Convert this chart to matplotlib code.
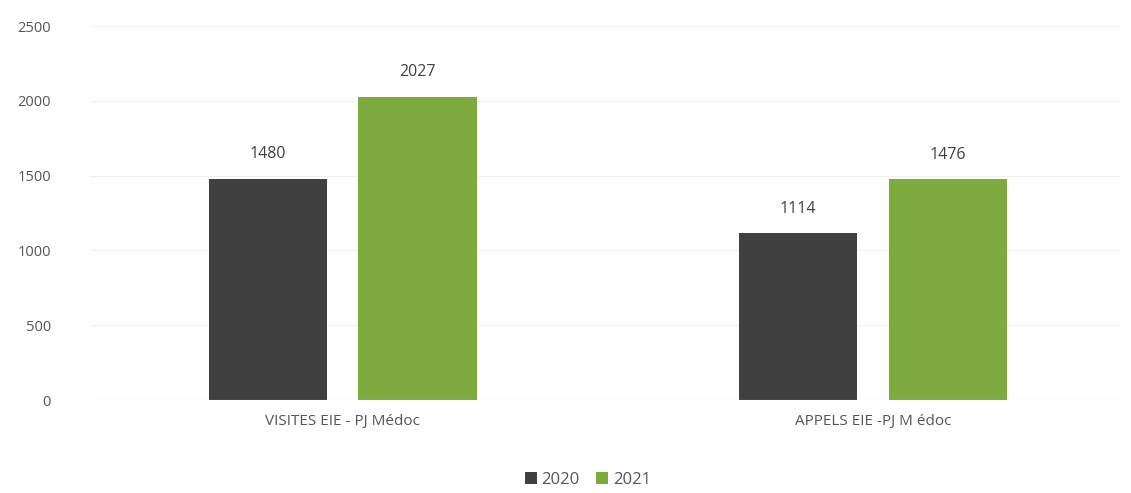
import matplotlib
matplotlib.use("Agg")
import matplotlib.pyplot as plt
import numpy as np

categories = ["VISITES EIE - PJ Médoc", "APPELS EIE -PJ M édoc"]
series_names = ["2020", "2021"]
values_2020 = [1480, 1114]
values_2021 = [2027, 1476]
yticks = [0, 500, 1000, 1500, 2000, 2500]

colors = ["#404040", "#7dab3e"]
plt.rcParams['font.family'] = ['Open Sans', 'DejaVu Sans']

fig = plt.figure(figsize=(11.31, 4.93), dpi=100)
ax = fig.add_axes([90/1131, 93/493, 1030/1131, 374/493])

x = np.arange(len(categories))
w = 0.223
off = 0.141
b1 = ax.bar(x - off, values_2020, w, color=colors[0], label=series_names[0])
b2 = ax.bar(x + off, values_2021, w, color=colors[1], label=series_names[1])

for bars in (b1, b2):
    for r in bars:
        ax.annotate(f"{int(r.get_height())}", (r.get_x() + r.get_width()/2, r.get_height()),
                    xytext=(0, 12), textcoords="offset points", ha="center", va="bottom",
                    fontsize=11.5, color="#404040")

ax.set_xlim(-0.477, 1.466)
ax.set_ylim(0, 2500)
ax.set_yticks(yticks)
ax.set_yticklabels([str(v) for v in yticks], fontsize=10.5, color="#555555")
ax.tick_params(axis='y', length=0, pad=28)
ax.set_xticks(x)
ax.set_xticklabels(categories, fontsize=11, color="#555555")
ax.tick_params(axis='x', length=0, pad=10)
ax.grid(axis='y', color="#f0f0f0", linewidth=0.8)
ax.set_axisbelow(True)
for s in ax.spines.values():
    s.set_visible(False)
ax.axhline(0, color="#e0e0e0", linewidth=0.8)

fig.legend(handles=[b1, b2], labels=series_names, loc="center", bbox_to_anchor=(588/1131, 1 - 480/493),
           ncol=2, frameon=False, fontsize=12, handlelength=0.7, handleheight=0.7,
           handletextpad=0.3, columnspacing=1.0, labelcolor="#555555")

fig.savefig("out.png", dpi=100, facecolor="white")
